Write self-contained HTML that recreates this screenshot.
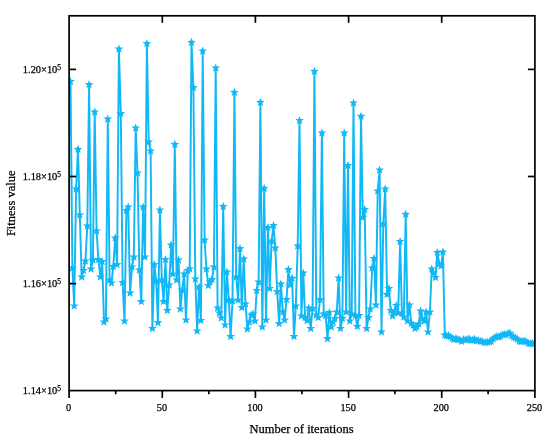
<!DOCTYPE html>
<html><head><meta charset="utf-8"><title>Fitness value</title>
<style>html,body{margin:0;padding:0;background:#fff;}svg{display:block;}</style></head>
<body>
<svg width="550" height="442" viewBox="0 0 550 442">
<rect width="550" height="442" fill="#fff"/>
<defs><clipPath id="plot"><rect x="69.1" y="15.8" width="465.8" height="374.8"/></clipPath></defs>
<g clip-path="url(#plot)">
<polyline points="70.5,81.5 72.4,268.0 74.2,306.0 76.1,189.0 78.0,149.4 79.8,215.0 81.7,277.0 83.5,270.5 85.4,261.0 87.3,226.0 89.1,84.6 91.0,269.0 92.9,260.0 94.7,112.0 96.6,231.0 98.4,259.5 100.3,277.0 102.2,261.5 104.0,322.0 105.9,319.0 107.8,119.0 109.6,280.0 111.5,283.0 113.3,266.5 115.2,238.0 117.1,264.6 118.9,49.0 120.8,113.6 122.6,282.5 124.5,321.0 126.4,210.5 128.2,207.0 130.1,293.0 132.0,267.0 133.8,257.0 135.7,128.0 137.5,173.0 139.4,270.0 141.3,301.6 143.1,207.0 145.0,257.0 146.9,43.6 148.7,142.0 150.6,151.0 152.4,328.5 154.3,264.5 156.2,281.0 158.0,322.7 159.9,210.0 161.8,280.0 163.6,301.6 165.5,259.5 167.3,310.4 169.2,285.0 171.1,245.0 172.9,274.0 174.8,144.4 176.6,280.0 178.5,260.0 180.4,309.0 182.2,290.0 184.1,274.0 186.0,320.0 187.8,270.5 189.7,269.0 191.5,42.4 193.4,87.6 195.3,279.0 197.1,331.0 199.0,287.0 200.9,320.5 202.7,51.0 204.6,240.0 206.4,269.0 208.3,285.5 210.2,281.5 212.0,279.5 213.9,267.0 215.7,68.0 217.6,308.0 219.5,313.0 221.3,318.0 223.2,206.5 225.1,325.0 226.9,272.0 228.8,300.0 230.6,336.5 232.5,301.0 234.4,92.4 236.2,277.0 238.1,300.0 240.0,248.7 241.8,307.5 243.7,259.0 245.5,304.0 247.4,329.0 249.3,322.0 251.1,315.0 253.0,314.0 254.9,321.0 256.7,290.5 258.6,282.0 260.4,102.4 262.3,327.0 264.2,188.4 266.0,320.0 267.9,227.6 269.7,288.5 271.6,241.0 273.5,225.5 275.3,248.0 277.2,291.5 279.1,323.5 280.9,284.0 282.8,312.0 284.6,320.0 286.5,299.5 288.4,269.6 290.2,285.0 292.1,278.4 294.0,336.5 295.8,306.0 297.7,246.0 299.5,120.5 301.4,316.0 303.3,273.0 305.1,317.5 307.0,320.5 308.8,308.0 310.7,328.5 312.6,308.5 314.4,71.4 316.3,315.0 318.2,317.6 320.0,299.5 321.9,133.0 323.7,314.0 325.6,315.5 327.5,338.7 329.3,312.5 331.2,327.0 333.1,322.0 334.9,318.6 336.8,312.0 338.6,278.0 340.5,328.5 342.4,318.4 344.2,133.0 346.1,312.0 348.0,165.6 349.8,321.0 351.7,314.0 353.5,103.0 355.4,315.5 357.3,326.4 359.1,315.5 361.0,116.4 362.8,217.5 364.7,209.5 366.6,328.5 368.4,317.6 370.3,309.0 372.2,268.0 374.0,258.5 375.9,305.0 377.7,191.0 379.6,170.0 381.5,332.0 383.3,224.0 385.2,189.0 387.1,294.4 388.9,288.5 390.8,310.5 392.6,316.0 394.5,312.0 396.4,305.5 398.2,313.0 400.1,241.5 401.9,313.0 403.8,317.0 405.7,214.3 407.5,321.0 409.4,305.0 411.3,323.5 413.1,325.0 415.0,328.5 416.8,327.0 418.7,324.0 420.6,311.0 422.4,319.0 424.3,321.0 426.2,312.0 428.0,332.0 429.9,312.0 431.7,269.0 433.6,273.0 435.5,277.5 437.3,252.5 439.2,264.0 441.1,266.0 442.9,252.0 444.8,335.1 446.6,336.1 448.5,335.7 450.4,336.8 452.2,338.6 454.1,339.6 455.9,338.6 457.8,339.5 459.7,339.8 461.5,341.4 463.4,339.6 465.3,339.9 467.1,339.6 469.0,338.9 470.8,340.2 472.7,340.2 474.6,339.2 476.4,340.9 478.3,340.5 480.2,341.3 482.0,341.3 483.9,342.6 485.7,342.3 487.6,342.0 489.5,342.0 491.3,341.3 493.2,338.9 495.0,337.3 496.9,336.7 498.8,337.0 500.6,336.1 502.5,334.8 504.4,334.7 506.2,334.5 508.1,333.6 509.9,333.2 511.8,336.0 513.7,337.2 515.5,338.1 517.4,339.2 519.3,341.0 521.1,341.7 523.0,341.1 524.8,341.0 526.7,342.0 528.6,343.6 530.4,343.5 532.3,343.4 534.1,344.0" fill="none" stroke="#12b7f5" stroke-width="1.95" stroke-linejoin="round"/>
<path d="M70.5 76.9L71.7 79.9L74.9 80.1L72.4 82.1L73.2 85.2L70.5 83.5L67.8 85.2L68.6 82.1L66.1 80.1L69.3 79.9ZM72.4 263.4L73.5 266.4L76.7 266.6L74.3 268.6L75.1 271.7L72.4 270.0L69.7 271.7L70.5 268.6L68.0 266.6L71.2 266.4ZM74.2 301.4L75.4 304.4L78.6 304.6L76.1 306.6L76.9 309.7L74.2 308.0L71.5 309.7L72.3 306.6L69.9 304.6L73.1 304.4ZM76.1 184.4L77.3 187.4L80.5 187.6L78.0 189.6L78.8 192.7L76.1 191.0L73.4 192.7L74.2 189.6L71.7 187.6L74.9 187.4ZM78.0 144.8L79.1 147.8L82.3 148.0L79.9 150.0L80.7 153.1L78.0 151.4L75.3 153.1L76.1 150.0L73.6 148.0L76.8 147.8ZM79.8 210.4L81.0 213.4L84.2 213.6L81.7 215.6L82.5 218.7L79.8 217.0L77.1 218.7L77.9 215.6L75.4 213.6L78.6 213.4ZM81.7 272.4L82.9 275.4L86.1 275.6L83.6 277.6L84.4 280.7L81.7 279.0L79.0 280.7L79.8 277.6L77.3 275.6L80.5 275.4ZM83.5 265.9L84.7 268.9L87.9 269.1L85.4 271.1L86.2 274.2L83.5 272.5L80.8 274.2L81.6 271.1L79.2 269.1L82.4 268.9ZM85.4 256.4L86.6 259.4L89.8 259.6L87.3 261.6L88.1 264.7L85.4 263.0L82.7 264.7L83.5 261.6L81.0 259.6L84.2 259.4ZM87.3 221.4L88.4 224.4L91.6 224.6L89.2 226.6L90.0 229.7L87.3 228.0L84.6 229.7L85.4 226.6L82.9 224.6L86.1 224.4ZM89.1 80.0L90.3 83.0L93.5 83.2L91.0 85.2L91.8 88.3L89.1 86.6L86.4 88.3L87.2 85.2L84.8 83.2L88.0 83.0ZM91.0 264.4L92.2 267.4L95.4 267.6L92.9 269.6L93.7 272.7L91.0 271.0L88.3 272.7L89.1 269.6L86.6 267.6L89.8 267.4ZM92.9 255.4L94.0 258.4L97.2 258.6L94.8 260.6L95.6 263.7L92.9 262.0L90.2 263.7L91.0 260.6L88.5 258.6L91.7 258.4ZM94.7 107.4L95.9 110.4L99.1 110.6L96.6 112.6L97.4 115.7L94.7 114.0L92.0 115.7L92.8 112.6L90.3 110.6L93.5 110.4ZM96.6 226.4L97.8 229.4L101.0 229.6L98.5 231.6L99.3 234.7L96.6 233.0L93.9 234.7L94.7 231.6L92.2 229.6L95.4 229.4ZM98.4 254.9L99.6 257.9L102.8 258.1L100.3 260.1L101.1 263.2L98.4 261.5L95.7 263.2L96.5 260.1L94.1 258.1L97.3 257.9ZM100.3 272.4L101.5 275.4L104.7 275.6L102.2 277.6L103.0 280.7L100.3 279.0L97.6 280.7L98.4 277.6L95.9 275.6L99.1 275.4ZM102.2 256.9L103.3 259.9L106.5 260.1L104.1 262.1L104.9 265.2L102.2 263.5L99.5 265.2L100.3 262.1L97.8 260.1L101.0 259.9ZM104.0 317.4L105.2 320.4L108.4 320.6L105.9 322.6L106.7 325.7L104.0 324.0L101.3 325.7L102.1 322.6L99.7 320.6L102.9 320.4ZM105.9 314.4L107.1 317.4L110.3 317.6L107.8 319.6L108.6 322.7L105.9 321.0L103.2 322.7L104.0 319.6L101.5 317.6L104.7 317.4ZM107.8 114.4L108.9 117.4L112.1 117.6L109.7 119.6L110.5 122.7L107.8 121.0L105.0 122.7L105.8 119.6L103.4 117.6L106.6 117.4ZM109.6 275.4L110.8 278.4L114.0 278.6L111.5 280.6L112.3 283.7L109.6 282.0L106.9 283.7L107.7 280.6L105.2 278.6L108.4 278.4ZM111.5 278.4L112.7 281.4L115.9 281.6L113.4 283.6L114.2 286.7L111.5 285.0L108.8 286.7L109.6 283.6L107.1 281.6L110.3 281.4ZM113.3 261.9L114.5 264.9L117.7 265.1L115.2 267.1L116.0 270.2L113.3 268.5L110.6 270.2L111.4 267.1L109.0 265.1L112.2 264.9ZM115.2 233.4L116.4 236.4L119.6 236.6L117.1 238.6L117.9 241.7L115.2 240.0L112.5 241.7L113.3 238.6L110.8 236.6L114.0 236.4ZM117.1 260.0L118.2 263.0L121.4 263.2L119.0 265.2L119.8 268.3L117.1 266.6L114.4 268.3L115.2 265.2L112.7 263.2L115.9 263.0ZM118.9 44.4L120.1 47.4L123.3 47.6L120.8 49.6L121.6 52.7L118.9 51.0L116.2 52.7L117.0 49.6L114.5 47.6L117.7 47.4ZM120.8 109.0L122.0 112.0L125.2 112.2L122.7 114.2L123.5 117.3L120.8 115.6L118.1 117.3L118.9 114.2L116.4 112.2L119.6 112.0ZM122.6 277.9L123.8 280.9L127.0 281.1L124.6 283.1L125.4 286.2L122.6 284.5L119.9 286.2L120.7 283.1L118.3 281.1L121.5 280.9ZM124.5 316.4L125.7 319.4L128.9 319.6L126.4 321.6L127.2 324.7L124.5 323.0L121.8 324.7L122.6 321.6L120.1 319.6L123.3 319.4ZM126.4 205.9L127.5 208.9L130.7 209.1L128.3 211.1L129.1 214.2L126.4 212.5L123.7 214.2L124.5 211.1L122.0 209.1L125.2 208.9ZM128.2 202.4L129.4 205.4L132.6 205.6L130.1 207.6L130.9 210.7L128.2 209.0L125.5 210.7L126.3 207.6L123.9 205.6L127.1 205.4ZM130.1 288.4L131.3 291.4L134.5 291.6L132.0 293.6L132.8 296.7L130.1 295.0L127.4 296.7L128.2 293.6L125.7 291.6L128.9 291.4ZM132.0 262.4L133.1 265.4L136.3 265.6L133.9 267.6L134.7 270.7L132.0 269.0L129.3 270.7L130.1 267.6L127.6 265.6L130.8 265.4ZM133.8 252.4L135.0 255.4L138.2 255.6L135.7 257.6L136.5 260.7L133.8 259.0L131.1 260.7L131.9 257.6L129.4 255.6L132.6 255.4ZM135.7 123.4L136.9 126.4L140.1 126.6L137.6 128.6L138.4 131.7L135.7 130.0L133.0 131.7L133.8 128.6L131.3 126.6L134.5 126.4ZM137.5 168.4L138.7 171.4L141.9 171.6L139.4 173.6L140.2 176.7L137.5 175.0L134.8 176.7L135.6 173.6L133.2 171.6L136.4 171.4ZM139.4 265.4L140.6 268.4L143.8 268.6L141.3 270.6L142.1 273.7L139.4 272.0L136.7 273.7L137.5 270.6L135.0 268.6L138.2 268.4ZM141.3 297.0L142.4 300.0L145.6 300.2L143.2 302.2L144.0 305.3L141.3 303.6L138.6 305.3L139.4 302.2L136.9 300.2L140.1 300.0ZM143.1 202.4L144.3 205.4L147.5 205.6L145.0 207.6L145.8 210.7L143.1 209.0L140.4 210.7L141.2 207.6L138.8 205.6L142.0 205.4ZM145.0 252.4L146.2 255.4L149.4 255.6L146.9 257.6L147.7 260.7L145.0 259.0L142.3 260.7L143.1 257.6L140.6 255.6L143.8 255.4ZM146.9 39.0L148.0 42.0L151.2 42.2L148.8 44.2L149.6 47.3L146.9 45.6L144.2 47.3L145.0 44.2L142.5 42.2L145.7 42.0ZM148.7 137.4L149.9 140.4L153.1 140.6L150.6 142.6L151.4 145.7L148.7 144.0L146.0 145.7L146.8 142.6L144.3 140.6L147.5 140.4ZM150.6 146.4L151.8 149.4L155.0 149.6L152.5 151.6L153.3 154.7L150.6 153.0L147.9 154.7L148.7 151.6L146.2 149.6L149.4 149.4ZM152.4 323.9L153.6 326.9L156.8 327.1L154.3 329.1L155.1 332.2L152.4 330.5L149.7 332.2L150.5 329.1L148.1 327.1L151.3 326.9ZM154.3 259.9L155.5 262.9L158.7 263.1L156.2 265.1L157.0 268.2L154.3 266.5L151.6 268.2L152.4 265.1L149.9 263.1L153.1 262.9ZM156.2 276.4L157.3 279.4L160.5 279.6L158.1 281.6L158.9 284.7L156.2 283.0L153.5 284.7L154.3 281.6L151.8 279.6L155.0 279.4ZM158.0 318.1L159.2 321.1L162.4 321.3L159.9 323.3L160.7 326.4L158.0 324.7L155.3 326.4L156.1 323.3L153.7 321.3L156.9 321.1ZM159.9 205.4L161.1 208.4L164.3 208.6L161.8 210.6L162.6 213.7L159.9 212.0L157.2 213.7L158.0 210.6L155.5 208.6L158.7 208.4ZM161.8 275.4L162.9 278.4L166.1 278.6L163.7 280.6L164.5 283.7L161.8 282.0L159.0 283.7L159.8 280.6L157.4 278.6L160.6 278.4ZM163.6 297.0L164.8 300.0L168.0 300.2L165.5 302.2L166.3 305.3L163.6 303.6L160.9 305.3L161.7 302.2L159.2 300.2L162.4 300.0ZM165.5 254.9L166.6 257.9L169.8 258.1L167.4 260.1L168.2 263.2L165.5 261.5L162.8 263.2L163.6 260.1L161.1 258.1L164.3 257.9ZM167.3 305.8L168.5 308.8L171.7 309.0L169.2 311.0L170.0 314.1L167.3 312.4L164.6 314.1L165.4 311.0L163.0 309.0L166.2 308.8ZM169.2 280.4L170.4 283.4L173.6 283.6L171.1 285.6L171.9 288.7L169.2 287.0L166.5 288.7L167.3 285.6L164.8 283.6L168.0 283.4ZM171.1 240.4L172.2 243.4L175.4 243.6L173.0 245.6L173.8 248.7L171.1 247.0L168.4 248.7L169.2 245.6L166.7 243.6L169.9 243.4ZM172.9 269.4L174.1 272.4L177.3 272.6L174.8 274.6L175.6 277.7L172.9 276.0L170.2 277.7L171.0 274.6L168.5 272.6L171.7 272.4ZM174.8 139.8L176.0 142.8L179.2 143.0L176.7 145.0L177.5 148.1L174.8 146.4L172.1 148.1L172.9 145.0L170.4 143.0L173.6 142.8ZM176.6 275.4L177.8 278.4L181.0 278.6L178.5 280.6L179.3 283.7L176.6 282.0L173.9 283.7L174.7 280.6L172.3 278.6L175.5 278.4ZM178.5 255.4L179.7 258.4L182.9 258.6L180.4 260.6L181.2 263.7L178.5 262.0L175.8 263.7L176.6 260.6L174.1 258.6L177.3 258.4ZM180.4 304.4L181.5 307.4L184.7 307.6L182.3 309.6L183.1 312.7L180.4 311.0L177.7 312.7L178.5 309.6L176.0 307.6L179.2 307.4ZM182.2 285.4L183.4 288.4L186.6 288.6L184.1 290.6L184.9 293.7L182.2 292.0L179.5 293.7L180.3 290.6L177.9 288.6L181.1 288.4ZM184.1 269.4L185.3 272.4L188.5 272.6L186.0 274.6L186.8 277.7L184.1 276.0L181.4 277.7L182.2 274.6L179.7 272.6L182.9 272.4ZM186.0 315.4L187.1 318.4L190.3 318.6L187.9 320.6L188.7 323.7L186.0 322.0L183.3 323.7L184.1 320.6L181.6 318.6L184.8 318.4ZM187.8 265.9L189.0 268.9L192.2 269.1L189.7 271.1L190.5 274.2L187.8 272.5L185.1 274.2L185.9 271.1L183.4 269.1L186.6 268.9ZM189.7 264.4L190.9 267.4L194.1 267.6L191.6 269.6L192.4 272.7L189.7 271.0L187.0 272.7L187.8 269.6L185.3 267.6L188.5 267.4ZM191.5 37.8L192.7 40.8L195.9 41.0L193.4 43.0L194.2 46.1L191.5 44.4L188.8 46.1L189.6 43.0L187.2 41.0L190.4 40.8ZM193.4 83.0L194.6 86.0L197.8 86.2L195.3 88.2L196.1 91.3L193.4 89.6L190.7 91.3L191.5 88.2L189.0 86.2L192.2 86.0ZM195.3 274.4L196.4 277.4L199.6 277.6L197.2 279.6L198.0 282.7L195.3 281.0L192.6 282.7L193.4 279.6L190.9 277.6L194.1 277.4ZM197.1 326.4L198.3 329.4L201.5 329.6L199.0 331.6L199.8 334.7L197.1 333.0L194.4 334.7L195.2 331.6L192.8 329.6L196.0 329.4ZM199.0 282.4L200.2 285.4L203.4 285.6L200.9 287.6L201.7 290.7L199.0 289.0L196.3 290.7L197.1 287.6L194.6 285.6L197.8 285.4ZM200.9 315.9L202.0 318.9L205.2 319.1L202.8 321.1L203.6 324.2L200.9 322.5L198.1 324.2L198.9 321.1L196.5 319.1L199.7 318.9ZM202.7 46.4L203.9 49.4L207.1 49.6L204.6 51.6L205.4 54.7L202.7 53.0L200.0 54.7L200.8 51.6L198.3 49.6L201.5 49.4ZM204.6 235.4L205.8 238.4L209.0 238.6L206.5 240.6L207.3 243.7L204.6 242.0L201.9 243.7L202.7 240.6L200.2 238.6L203.4 238.4ZM206.4 264.4L207.6 267.4L210.8 267.6L208.3 269.6L209.1 272.7L206.4 271.0L203.7 272.7L204.5 269.6L202.1 267.6L205.3 267.4ZM208.3 280.9L209.5 283.9L212.7 284.1L210.2 286.1L211.0 289.2L208.3 287.5L205.6 289.2L206.4 286.1L203.9 284.1L207.1 283.9ZM210.2 276.9L211.3 279.9L214.5 280.1L212.1 282.1L212.9 285.2L210.2 283.5L207.5 285.2L208.3 282.1L205.8 280.1L209.0 279.9ZM212.0 274.9L213.2 277.9L216.4 278.1L213.9 280.1L214.7 283.2L212.0 281.5L209.3 283.2L210.1 280.1L207.6 278.1L210.8 277.9ZM213.9 262.4L215.1 265.4L218.3 265.6L215.8 267.6L216.6 270.7L213.9 269.0L211.2 270.7L212.0 267.6L209.5 265.6L212.7 265.4ZM215.7 63.4L216.9 66.4L220.1 66.6L217.7 68.6L218.5 71.7L215.7 70.0L213.0 71.7L213.8 68.6L211.4 66.6L214.6 66.4ZM217.6 303.4L218.8 306.4L222.0 306.6L219.5 308.6L220.3 311.7L217.6 310.0L214.9 311.7L215.7 308.6L213.2 306.6L216.4 306.4ZM219.5 308.4L220.6 311.4L223.8 311.6L221.4 313.6L222.2 316.7L219.5 315.0L216.8 316.7L217.6 313.6L215.1 311.6L218.3 311.4ZM221.3 313.4L222.5 316.4L225.7 316.6L223.2 318.6L224.0 321.7L221.3 320.0L218.6 321.7L219.4 318.6L217.0 316.6L220.2 316.4ZM223.2 201.9L224.4 204.9L227.6 205.1L225.1 207.1L225.9 210.2L223.2 208.5L220.5 210.2L221.3 207.1L218.8 205.1L222.0 204.9ZM225.1 320.4L226.2 323.4L229.4 323.6L227.0 325.6L227.8 328.7L225.1 327.0L222.4 328.7L223.2 325.6L220.7 323.6L223.9 323.4ZM226.9 267.4L228.1 270.4L231.3 270.6L228.8 272.6L229.6 275.7L226.9 274.0L224.2 275.7L225.0 272.6L222.5 270.6L225.7 270.4ZM228.8 295.4L230.0 298.4L233.2 298.6L230.7 300.6L231.5 303.7L228.8 302.0L226.1 303.7L226.9 300.6L224.4 298.6L227.6 298.4ZM230.6 331.9L231.8 334.9L235.0 335.1L232.5 337.1L233.3 340.2L230.6 338.5L227.9 340.2L228.7 337.1L226.3 335.1L229.5 334.9ZM232.5 296.4L233.7 299.4L236.9 299.6L234.4 301.6L235.2 304.7L232.5 303.0L229.8 304.7L230.6 301.6L228.1 299.6L231.3 299.4ZM234.4 87.8L235.5 90.8L238.7 91.0L236.3 93.0L237.1 96.1L234.4 94.4L231.7 96.1L232.5 93.0L230.0 91.0L233.2 90.8ZM236.2 272.4L237.4 275.4L240.6 275.6L238.1 277.6L238.9 280.7L236.2 279.0L233.5 280.7L234.3 277.6L231.9 275.6L235.1 275.4ZM238.1 295.4L239.3 298.4L242.5 298.6L240.0 300.6L240.8 303.7L238.1 302.0L235.4 303.7L236.2 300.6L233.7 298.6L236.9 298.4ZM240.0 244.1L241.1 247.1L244.3 247.3L241.9 249.3L242.7 252.4L240.0 250.7L237.3 252.4L238.1 249.3L235.6 247.3L238.8 247.1ZM241.8 302.9L243.0 305.9L246.2 306.1L243.7 308.1L244.5 311.2L241.8 309.5L239.1 311.2L239.9 308.1L237.4 306.1L240.6 305.9ZM243.7 254.4L244.9 257.4L248.1 257.6L245.6 259.6L246.4 262.7L243.7 261.0L241.0 262.7L241.8 259.6L239.3 257.6L242.5 257.4ZM245.5 299.4L246.7 302.4L249.9 302.6L247.4 304.6L248.2 307.7L245.5 306.0L242.8 307.7L243.6 304.6L241.2 302.6L244.4 302.4ZM247.4 324.4L248.6 327.4L251.8 327.6L249.3 329.6L250.1 332.7L247.4 331.0L244.7 332.7L245.5 329.6L243.0 327.6L246.2 327.4ZM249.3 317.4L250.4 320.4L253.6 320.6L251.2 322.6L252.0 325.7L249.3 324.0L246.6 325.7L247.4 322.6L244.9 320.6L248.1 320.4ZM251.1 310.4L252.3 313.4L255.5 313.6L253.0 315.6L253.8 318.7L251.1 317.0L248.4 318.7L249.2 315.6L246.8 313.6L250.0 313.4ZM253.0 309.4L254.2 312.4L257.4 312.6L254.9 314.6L255.7 317.7L253.0 316.0L250.3 317.7L251.1 314.6L248.6 312.6L251.8 312.4ZM254.9 316.4L256.0 319.4L259.2 319.6L256.8 321.6L257.6 324.7L254.9 323.0L252.1 324.7L252.9 321.6L250.5 319.6L253.7 319.4ZM256.7 285.9L257.9 288.9L261.1 289.1L258.6 291.1L259.4 294.2L256.7 292.5L254.0 294.2L254.8 291.1L252.3 289.1L255.5 288.9ZM258.6 277.4L259.7 280.4L262.9 280.6L260.5 282.6L261.3 285.7L258.6 284.0L255.9 285.7L256.7 282.6L254.2 280.6L257.4 280.4ZM260.4 97.8L261.6 100.8L264.8 101.0L262.3 103.0L263.1 106.1L260.4 104.4L257.7 106.1L258.5 103.0L256.1 101.0L259.3 100.8ZM262.3 322.4L263.5 325.4L266.7 325.6L264.2 327.6L265.0 330.7L262.3 329.0L259.6 330.7L260.4 327.6L257.9 325.6L261.1 325.4ZM264.2 183.8L265.3 186.8L268.5 187.0L266.1 189.0L266.9 192.1L264.2 190.4L261.5 192.1L262.3 189.0L259.8 187.0L263.0 186.8ZM266.0 315.4L267.2 318.4L270.4 318.6L267.9 320.6L268.7 323.7L266.0 322.0L263.3 323.7L264.1 320.6L261.6 318.6L264.8 318.4ZM267.9 223.0L269.1 226.0L272.3 226.2L269.8 228.2L270.6 231.3L267.9 229.6L265.2 231.3L266.0 228.2L263.5 226.2L266.7 226.0ZM269.7 283.9L270.9 286.9L274.1 287.1L271.6 289.1L272.4 292.2L269.7 290.5L267.0 292.2L267.8 289.1L265.4 287.1L268.6 286.9ZM271.6 236.4L272.8 239.4L276.0 239.6L273.5 241.6L274.3 244.7L271.6 243.0L268.9 244.7L269.7 241.6L267.2 239.6L270.4 239.4ZM273.5 220.9L274.6 223.9L277.8 224.1L275.4 226.1L276.2 229.2L273.5 227.5L270.8 229.2L271.6 226.1L269.1 224.1L272.3 223.9ZM275.3 243.4L276.5 246.4L279.7 246.6L277.2 248.6L278.0 251.7L275.3 250.0L272.6 251.7L273.4 248.6L271.0 246.6L274.2 246.4ZM277.2 286.9L278.4 289.9L281.6 290.1L279.1 292.1L279.9 295.2L277.2 293.5L274.5 295.2L275.3 292.1L272.8 290.1L276.0 289.9ZM279.1 318.9L280.2 321.9L283.4 322.1L281.0 324.1L281.8 327.2L279.1 325.5L276.4 327.2L277.2 324.1L274.7 322.1L277.9 321.9ZM280.9 279.4L282.1 282.4L285.3 282.6L282.8 284.6L283.6 287.7L280.9 286.0L278.2 287.7L279.0 284.6L276.5 282.6L279.7 282.4ZM282.8 307.4L284.0 310.4L287.2 310.6L284.7 312.6L285.5 315.7L282.8 314.0L280.1 315.7L280.9 312.6L278.4 310.6L281.6 310.4ZM284.6 315.4L285.8 318.4L289.0 318.6L286.5 320.6L287.3 323.7L284.6 322.0L281.9 323.7L282.7 320.6L280.3 318.6L283.5 318.4ZM286.5 294.9L287.7 297.9L290.9 298.1L288.4 300.1L289.2 303.2L286.5 301.5L283.8 303.2L284.6 300.1L282.1 298.1L285.3 297.9ZM288.4 265.0L289.5 268.0L292.7 268.2L290.3 270.2L291.1 273.3L288.4 271.6L285.7 273.3L286.5 270.2L284.0 268.2L287.2 268.0ZM290.2 280.4L291.4 283.4L294.6 283.6L292.1 285.6L292.9 288.7L290.2 287.0L287.5 288.7L288.3 285.6L285.9 283.6L289.1 283.4ZM292.1 273.8L293.3 276.8L296.5 277.0L294.0 279.0L294.8 282.1L292.1 280.4L289.4 282.1L290.2 279.0L287.7 277.0L290.9 276.8ZM294.0 331.9L295.1 334.9L298.3 335.1L295.9 337.1L296.7 340.2L294.0 338.5L291.2 340.2L292.0 337.1L289.6 335.1L292.8 334.9ZM295.8 301.4L297.0 304.4L300.2 304.6L297.7 306.6L298.5 309.7L295.8 308.0L293.1 309.7L293.9 306.6L291.4 304.6L294.6 304.4ZM297.7 241.4L298.9 244.4L302.1 244.6L299.6 246.6L300.4 249.7L297.7 248.0L295.0 249.7L295.8 246.6L293.3 244.6L296.5 244.4ZM299.5 115.9L300.7 118.9L303.9 119.1L301.4 121.1L302.2 124.2L299.5 122.5L296.8 124.2L297.6 121.1L295.2 119.1L298.4 118.9ZM301.4 311.4L302.6 314.4L305.8 314.6L303.3 316.6L304.1 319.7L301.4 318.0L298.7 319.7L299.5 316.6L297.0 314.6L300.2 314.4ZM303.3 268.4L304.4 271.4L307.6 271.6L305.2 273.6L306.0 276.7L303.3 275.0L300.6 276.7L301.4 273.6L298.9 271.6L302.1 271.4ZM305.1 312.9L306.3 315.9L309.5 316.1L307.0 318.1L307.8 321.2L305.1 319.5L302.4 321.2L303.2 318.1L300.7 316.1L303.9 315.9ZM307.0 315.9L308.2 318.9L311.4 319.1L308.9 321.1L309.7 324.2L307.0 322.5L304.3 324.2L305.1 321.1L302.6 319.1L305.8 318.9ZM308.8 303.4L310.0 306.4L313.2 306.6L310.8 308.6L311.6 311.7L308.8 310.0L306.1 311.7L306.9 308.6L304.5 306.6L307.7 306.4ZM310.7 323.9L311.9 326.9L315.1 327.1L312.6 329.1L313.4 332.2L310.7 330.5L308.0 332.2L308.8 329.1L306.3 327.1L309.5 326.9ZM312.6 303.9L313.7 306.9L316.9 307.1L314.5 309.1L315.3 312.2L312.6 310.5L309.9 312.2L310.7 309.1L308.2 307.1L311.4 306.9ZM314.4 66.8L315.6 69.8L318.8 70.0L316.3 72.0L317.1 75.1L314.4 73.4L311.7 75.1L312.5 72.0L310.1 70.0L313.3 69.8ZM316.3 310.4L317.5 313.4L320.7 313.6L318.2 315.6L319.0 318.7L316.3 317.0L313.6 318.7L314.4 315.6L311.9 313.6L315.1 313.4ZM318.2 313.0L319.3 316.0L322.5 316.2L320.1 318.2L320.9 321.3L318.2 319.6L315.5 321.3L316.3 318.2L313.8 316.2L317.0 316.0ZM320.0 294.9L321.2 297.9L324.4 298.1L321.9 300.1L322.7 303.2L320.0 301.5L317.3 303.2L318.1 300.1L315.6 298.1L318.8 297.9ZM321.9 128.4L323.1 131.4L326.3 131.6L323.8 133.6L324.6 136.7L321.9 135.0L319.2 136.7L320.0 133.6L317.5 131.6L320.7 131.4ZM323.7 309.4L324.9 312.4L328.1 312.6L325.6 314.6L326.4 317.7L323.7 316.0L321.0 317.7L321.8 314.6L319.4 312.6L322.6 312.4ZM325.6 310.9L326.8 313.9L330.0 314.1L327.5 316.1L328.3 319.2L325.6 317.5L322.9 319.2L323.7 316.1L321.2 314.1L324.4 313.9ZM327.5 334.1L328.6 337.1L331.8 337.3L329.4 339.3L330.2 342.4L327.5 340.7L324.8 342.4L325.6 339.3L323.1 337.3L326.3 337.1ZM329.3 307.9L330.5 310.9L333.7 311.1L331.2 313.1L332.0 316.2L329.3 314.5L326.6 316.2L327.4 313.1L325.0 311.1L328.2 310.9ZM331.2 322.4L332.4 325.4L335.6 325.6L333.1 327.6L333.9 330.7L331.2 329.0L328.5 330.7L329.3 327.6L326.8 325.6L330.0 325.4ZM333.1 317.4L334.2 320.4L337.4 320.6L335.0 322.6L335.8 325.7L333.1 324.0L330.4 325.7L331.2 322.6L328.7 320.6L331.9 320.4ZM334.9 314.0L336.1 317.0L339.3 317.2L336.8 319.2L337.6 322.3L334.9 320.6L332.2 322.3L333.0 319.2L330.5 317.2L333.7 317.0ZM336.8 307.4L338.0 310.4L341.2 310.6L338.7 312.6L339.5 315.7L336.8 314.0L334.1 315.7L334.9 312.6L332.4 310.6L335.6 310.4ZM338.6 273.4L339.8 276.4L343.0 276.6L340.5 278.6L341.3 281.7L338.6 280.0L335.9 281.7L336.7 278.6L334.3 276.6L337.5 276.4ZM340.5 323.9L341.7 326.9L344.9 327.1L342.4 329.1L343.2 332.2L340.5 330.5L337.8 332.2L338.6 329.1L336.1 327.1L339.3 326.9ZM342.4 313.8L343.5 316.8L346.7 317.0L344.3 319.0L345.1 322.1L342.4 320.4L339.7 322.1L340.5 319.0L338.0 317.0L341.2 316.8ZM344.2 128.4L345.4 131.4L348.6 131.6L346.1 133.6L346.9 136.7L344.2 135.0L341.5 136.7L342.3 133.6L339.9 131.6L343.1 131.4ZM346.1 307.4L347.3 310.4L350.5 310.6L348.0 312.6L348.8 315.7L346.1 314.0L343.4 315.7L344.2 312.6L341.7 310.6L344.9 310.4ZM348.0 161.0L349.1 164.0L352.3 164.2L349.9 166.2L350.7 169.3L348.0 167.6L345.2 169.3L346.0 166.2L343.6 164.2L346.8 164.0ZM349.8 316.4L351.0 319.4L354.2 319.6L351.7 321.6L352.5 324.7L349.8 323.0L347.1 324.7L347.9 321.6L345.4 319.6L348.6 319.4ZM351.7 309.4L352.8 312.4L356.0 312.6L353.6 314.6L354.4 317.7L351.7 316.0L349.0 317.7L349.8 314.6L347.3 312.6L350.5 312.4ZM353.5 98.4L354.7 101.4L357.9 101.6L355.4 103.6L356.2 106.7L353.5 105.0L350.8 106.7L351.6 103.6L349.2 101.6L352.4 101.4ZM355.4 310.9L356.6 313.9L359.8 314.1L357.3 316.1L358.1 319.2L355.4 317.5L352.7 319.2L353.5 316.1L351.0 314.1L354.2 313.9ZM357.3 321.8L358.4 324.8L361.6 325.0L359.2 327.0L360.0 330.1L357.3 328.4L354.6 330.1L355.4 327.0L352.9 325.0L356.1 324.8ZM359.1 310.9L360.3 313.9L363.5 314.1L361.0 316.1L361.8 319.2L359.1 317.5L356.4 319.2L357.2 316.1L354.7 314.1L357.9 313.9ZM361.0 111.8L362.2 114.8L365.4 115.0L362.9 117.0L363.7 120.1L361.0 118.4L358.3 120.1L359.1 117.0L356.6 115.0L359.8 114.8ZM362.8 212.9L364.0 215.9L367.2 216.1L364.7 218.1L365.5 221.2L362.8 219.5L360.1 221.2L360.9 218.1L358.5 216.1L361.7 215.9ZM364.7 204.9L365.9 207.9L369.1 208.1L366.6 210.1L367.4 213.2L364.7 211.5L362.0 213.2L362.8 210.1L360.3 208.1L363.5 207.9ZM366.6 323.9L367.7 326.9L370.9 327.1L368.5 329.1L369.3 332.2L366.6 330.5L363.9 332.2L364.7 329.1L362.2 327.1L365.4 326.9ZM368.4 313.0L369.6 316.0L372.8 316.2L370.3 318.2L371.1 321.3L368.4 319.6L365.7 321.3L366.5 318.2L364.1 316.2L367.3 316.0ZM370.3 304.4L371.5 307.4L374.7 307.6L372.2 309.6L373.0 312.7L370.3 311.0L367.6 312.7L368.4 309.6L365.9 307.6L369.1 307.4ZM372.2 263.4L373.3 266.4L376.5 266.6L374.1 268.6L374.9 271.7L372.2 270.0L369.5 271.7L370.3 268.6L367.8 266.6L371.0 266.4ZM374.0 253.9L375.2 256.9L378.4 257.1L375.9 259.1L376.7 262.2L374.0 260.5L371.3 262.2L372.1 259.1L369.6 257.1L372.8 256.9ZM375.9 300.4L377.1 303.4L380.3 303.6L377.8 305.6L378.6 308.7L375.9 307.0L373.2 308.7L374.0 305.6L371.5 303.6L374.7 303.4ZM377.7 186.4L378.9 189.4L382.1 189.6L379.6 191.6L380.4 194.7L377.7 193.0L375.0 194.7L375.8 191.6L373.4 189.6L376.6 189.4ZM379.6 165.4L380.8 168.4L384.0 168.6L381.5 170.6L382.3 173.7L379.6 172.0L376.9 173.7L377.7 170.6L375.2 168.6L378.4 168.4ZM381.5 327.4L382.6 330.4L385.8 330.6L383.4 332.6L384.2 335.7L381.5 334.0L378.8 335.7L379.6 332.6L377.1 330.6L380.3 330.4ZM383.3 219.4L384.5 222.4L387.7 222.6L385.2 224.6L386.0 227.7L383.3 226.0L380.6 227.7L381.4 224.6L379.0 222.6L382.2 222.4ZM385.2 184.4L386.4 187.4L389.6 187.6L387.1 189.6L387.9 192.7L385.2 191.0L382.5 192.7L383.3 189.6L380.8 187.6L384.0 187.4ZM387.1 289.8L388.2 292.8L391.4 293.0L389.0 295.0L389.8 298.1L387.1 296.4L384.3 298.1L385.1 295.0L382.7 293.0L385.9 292.8ZM388.9 283.9L390.1 286.9L393.3 287.1L390.8 289.1L391.6 292.2L388.9 290.5L386.2 292.2L387.0 289.1L384.5 287.1L387.7 286.9ZM390.8 305.9L392.0 308.9L395.2 309.1L392.7 311.1L393.5 314.2L390.8 312.5L388.1 314.2L388.9 311.1L386.4 309.1L389.6 308.9ZM392.6 311.4L393.8 314.4L397.0 314.6L394.5 316.6L395.3 319.7L392.6 318.0L389.9 319.7L390.7 316.6L388.3 314.6L391.5 314.4ZM394.5 307.4L395.7 310.4L398.9 310.6L396.4 312.6L397.2 315.7L394.5 314.0L391.8 315.7L392.6 312.6L390.1 310.6L393.3 310.4ZM396.4 300.9L397.5 303.9L400.7 304.1L398.3 306.1L399.1 309.2L396.4 307.5L393.7 309.2L394.5 306.1L392.0 304.1L395.2 303.9ZM398.2 308.4L399.4 311.4L402.6 311.6L400.1 313.6L400.9 316.7L398.2 315.0L395.5 316.7L396.3 313.6L393.8 311.6L397.0 311.4ZM400.1 236.9L401.3 239.9L404.5 240.1L402.0 242.1L402.8 245.2L400.1 243.5L397.4 245.2L398.2 242.1L395.7 240.1L398.9 239.9ZM401.9 308.4L403.1 311.4L406.3 311.6L403.9 313.6L404.7 316.7L401.9 315.0L399.2 316.7L400.0 313.6L397.6 311.6L400.8 311.4ZM403.8 312.4L405.0 315.4L408.2 315.6L405.7 317.6L406.5 320.7L403.8 319.0L401.1 320.7L401.9 317.6L399.4 315.6L402.6 315.4ZM405.7 209.7L406.8 212.7L410.0 212.9L407.6 214.9L408.4 218.0L405.7 216.3L403.0 218.0L403.8 214.9L401.3 212.9L404.5 212.7ZM407.5 316.4L408.7 319.4L411.9 319.6L409.4 321.6L410.2 324.7L407.5 323.0L404.8 324.7L405.6 321.6L403.2 319.6L406.4 319.4ZM409.4 300.4L410.6 303.4L413.8 303.6L411.3 305.6L412.1 308.7L409.4 307.0L406.7 308.7L407.5 305.6L405.0 303.6L408.2 303.4ZM411.3 318.9L412.4 321.9L415.6 322.1L413.2 324.1L414.0 327.2L411.3 325.5L408.6 327.2L409.4 324.1L406.9 322.1L410.1 321.9ZM413.1 320.4L414.3 323.4L417.5 323.6L415.0 325.6L415.8 328.7L413.1 327.0L410.4 328.7L411.2 325.6L408.7 323.6L411.9 323.4ZM415.0 323.9L416.2 326.9L419.4 327.1L416.9 329.1L417.7 332.2L415.0 330.5L412.3 332.2L413.1 329.1L410.6 327.1L413.8 326.9ZM416.8 322.4L418.0 325.4L421.2 325.6L418.7 327.6L419.5 330.7L416.8 329.0L414.1 330.7L414.9 327.6L412.5 325.6L415.7 325.4ZM418.7 319.4L419.9 322.4L423.1 322.6L420.6 324.6L421.4 327.7L418.7 326.0L416.0 327.7L416.8 324.6L414.3 322.6L417.5 322.4ZM420.6 306.4L421.7 309.4L424.9 309.6L422.5 311.6L423.3 314.7L420.6 313.0L417.9 314.7L418.7 311.6L416.2 309.6L419.4 309.4ZM422.4 314.4L423.6 317.4L426.8 317.6L424.3 319.6L425.1 322.7L422.4 321.0L419.7 322.7L420.5 319.6L418.1 317.6L421.3 317.4ZM424.3 316.4L425.5 319.4L428.7 319.6L426.2 321.6L427.0 324.7L424.3 323.0L421.6 324.7L422.4 321.6L419.9 319.6L423.1 319.4ZM426.2 307.4L427.3 310.4L430.5 310.6L428.1 312.6L428.9 315.7L426.2 314.0L423.5 315.7L424.3 312.6L421.8 310.6L425.0 310.4ZM428.0 327.4L429.2 330.4L432.4 330.6L429.9 332.6L430.7 335.7L428.0 334.0L425.3 335.7L426.1 332.6L423.6 330.6L426.8 330.4ZM429.9 307.4L431.1 310.4L434.3 310.6L431.8 312.6L432.6 315.7L429.9 314.0L427.2 315.7L428.0 312.6L425.5 310.6L428.7 310.4ZM431.7 264.4L432.9 267.4L436.1 267.6L433.6 269.6L434.4 272.7L431.7 271.0L429.0 272.7L429.8 269.6L427.4 267.6L430.6 267.4ZM433.6 268.4L434.8 271.4L438.0 271.6L435.5 273.6L436.3 276.7L433.6 275.0L430.9 276.7L431.7 273.6L429.2 271.6L432.4 271.4ZM435.5 272.9L436.6 275.9L439.8 276.1L437.4 278.1L438.2 281.2L435.5 279.5L432.8 281.2L433.6 278.1L431.1 276.1L434.3 275.9ZM437.3 247.9L438.5 250.9L441.7 251.1L439.2 253.1L440.0 256.2L437.3 254.5L434.6 256.2L435.4 253.1L433.0 251.1L436.2 250.9ZM439.2 259.4L440.4 262.4L443.6 262.6L441.1 264.6L441.9 267.7L439.2 266.0L436.5 267.7L437.3 264.6L434.8 262.6L438.0 262.4ZM441.1 261.4L442.2 264.4L445.4 264.6L443.0 266.6L443.8 269.7L441.1 268.0L438.3 269.7L439.1 266.6L436.7 264.6L439.9 264.4ZM442.9 247.4L444.1 250.4L447.3 250.6L444.8 252.6L445.6 255.7L442.9 254.0L440.2 255.7L441.0 252.6L438.5 250.6L441.7 250.4ZM444.8 330.5L445.9 333.5L449.1 333.7L446.7 335.7L447.5 338.8L444.8 337.1L442.1 338.8L442.9 335.7L440.4 333.7L443.6 333.5ZM446.6 331.5L447.8 334.5L451.0 334.7L448.5 336.7L449.3 339.8L446.6 338.1L443.9 339.8L444.7 336.7L442.3 334.7L445.5 334.5ZM448.5 331.1L449.7 334.1L452.9 334.3L450.4 336.3L451.2 339.4L448.5 337.7L445.8 339.4L446.6 336.3L444.1 334.3L447.3 334.1ZM450.4 332.2L451.5 335.2L454.7 335.4L452.3 337.4L453.1 340.5L450.4 338.8L447.7 340.5L448.5 337.4L446.0 335.4L449.2 335.2ZM452.2 334.0L453.4 337.0L456.6 337.2L454.1 339.3L454.9 342.4L452.2 340.6L449.5 342.4L450.3 339.3L447.8 337.2L451.0 337.0ZM454.1 335.0L455.3 337.9L458.5 338.1L456.0 340.2L456.8 343.3L454.1 341.6L451.4 343.3L452.2 340.2L449.7 338.1L452.9 337.9ZM455.9 334.0L457.1 337.0L460.3 337.2L457.8 339.2L458.6 342.3L455.9 340.6L453.2 342.3L454.0 339.2L451.6 337.2L454.8 337.0ZM457.8 334.9L459.0 337.8L462.2 338.0L459.7 340.1L460.5 343.2L457.8 341.5L455.1 343.2L455.9 340.1L453.4 338.0L456.6 337.8ZM459.7 335.2L460.8 338.1L464.0 338.3L461.6 340.4L462.4 343.5L459.7 341.8L457.0 343.5L457.8 340.4L455.3 338.3L458.5 338.1ZM461.5 336.8L462.7 339.7L465.9 339.9L463.4 342.0L464.2 345.1L461.5 343.4L458.8 345.1L459.6 342.0L457.2 339.9L460.4 339.7ZM463.4 335.0L464.6 338.0L467.8 338.2L465.3 340.2L466.1 343.3L463.4 341.6L460.7 343.3L461.5 340.2L459.0 338.2L462.2 338.0ZM465.3 335.3L466.4 338.2L469.6 338.4L467.2 340.5L468.0 343.6L465.3 341.9L462.6 343.6L463.4 340.5L460.9 338.4L464.1 338.2ZM467.1 335.0L468.3 337.9L471.5 338.1L469.0 340.2L469.8 343.3L467.1 341.6L464.4 343.3L465.2 340.2L462.7 338.1L465.9 337.9ZM469.0 334.3L470.2 337.3L473.4 337.5L470.9 339.6L471.7 342.7L469.0 340.9L466.3 342.7L467.1 339.6L464.6 337.5L467.8 337.3ZM470.8 335.6L472.0 338.5L475.2 338.7L472.7 340.8L473.5 343.9L470.8 342.2L468.1 343.9L468.9 340.8L466.5 338.7L469.7 338.5ZM472.7 335.6L473.9 338.6L477.1 338.8L474.6 340.8L475.4 343.9L472.7 342.2L470.0 343.9L470.8 340.8L468.3 338.8L471.5 338.6ZM474.6 334.6L475.7 337.6L478.9 337.8L476.5 339.9L477.3 343.0L474.6 341.2L471.9 343.0L472.7 339.9L470.2 337.8L473.4 337.6ZM476.4 336.3L477.6 339.3L480.8 339.5L478.3 341.5L479.1 344.6L476.4 342.9L473.7 344.6L474.5 341.5L472.1 339.5L475.3 339.3ZM478.3 335.9L479.5 338.9L482.7 339.1L480.2 341.2L481.0 344.3L478.3 342.5L475.6 344.3L476.4 341.2L473.9 339.1L477.1 338.9ZM480.2 336.7L481.3 339.7L484.5 339.9L482.1 341.9L482.9 345.0L480.2 343.3L477.4 345.0L478.2 341.9L475.8 339.9L479.0 339.7ZM482.0 336.7L483.2 339.7L486.4 339.9L483.9 341.9L484.7 345.0L482.0 343.3L479.3 345.0L480.1 341.9L477.6 339.9L480.8 339.7ZM483.9 338.0L485.1 341.0L488.3 341.2L485.8 343.2L486.6 346.3L483.9 344.6L481.2 346.3L482.0 343.2L479.5 341.2L482.7 341.0ZM485.7 337.7L486.9 340.7L490.1 340.9L487.6 343.0L488.4 346.1L485.7 344.3L483.0 346.1L483.8 343.0L481.4 340.9L484.6 340.7ZM487.6 337.4L488.8 340.4L492.0 340.6L489.5 342.6L490.3 345.7L487.6 344.0L484.9 345.7L485.7 342.6L483.2 340.6L486.4 340.4ZM489.5 337.4L490.6 340.4L493.8 340.6L491.4 342.6L492.2 345.7L489.5 344.0L486.8 345.7L487.6 342.6L485.1 340.6L488.3 340.4ZM491.3 336.7L492.5 339.7L495.7 339.9L493.2 342.0L494.0 345.1L491.3 343.3L488.6 345.1L489.4 342.0L486.9 339.9L490.1 339.7ZM493.2 334.3L494.4 337.3L497.6 337.4L495.1 339.5L495.9 342.6L493.2 340.9L490.5 342.6L491.3 339.5L488.8 337.4L492.0 337.3ZM495.0 332.7L496.2 335.7L499.4 335.9L497.0 338.0L497.8 341.1L495.0 339.3L492.3 341.1L493.1 338.0L490.7 335.9L493.9 335.7ZM496.9 332.1L498.1 335.1L501.3 335.3L498.8 337.3L499.6 340.4L496.9 338.7L494.2 340.4L495.0 337.3L492.5 335.3L495.7 335.1ZM498.8 332.4L499.9 335.4L503.1 335.6L500.7 337.6L501.5 340.7L498.8 339.0L496.1 340.7L496.9 337.6L494.4 335.6L497.6 335.4ZM500.6 331.5L501.8 334.5L505.0 334.7L502.5 336.8L503.3 339.9L500.6 338.1L497.9 339.9L498.7 336.8L496.3 334.7L499.5 334.5ZM502.5 330.2L503.7 333.1L506.9 333.3L504.4 335.4L505.2 338.5L502.5 336.8L499.8 338.5L500.6 335.4L498.1 333.3L501.3 333.1ZM504.4 330.1L505.5 333.0L508.7 333.2L506.3 335.3L507.1 338.4L504.4 336.7L501.7 338.4L502.5 335.3L500.0 333.2L503.2 333.0ZM506.2 329.9L507.4 332.9L510.6 333.1L508.1 335.1L508.9 338.2L506.2 336.5L503.5 338.2L504.3 335.1L501.8 333.1L505.0 332.9ZM508.1 329.0L509.3 332.0L512.5 332.2L510.0 334.3L510.8 337.4L508.1 335.6L505.4 337.4L506.2 334.3L503.7 332.2L506.9 332.0ZM509.9 328.6L511.1 331.6L514.3 331.8L511.8 333.8L512.6 336.9L509.9 335.2L507.2 336.9L508.0 333.8L505.6 331.8L508.8 331.6ZM511.8 331.4L513.0 334.4L516.2 334.6L513.7 336.6L514.5 339.7L511.8 338.0L509.1 339.7L509.9 336.6L507.4 334.6L510.6 334.4ZM513.7 332.6L514.8 335.5L518.0 335.7L515.6 337.8L516.4 340.9L513.7 339.2L511.0 340.9L511.8 337.8L509.3 335.7L512.5 335.5ZM515.5 333.5L516.7 336.5L519.9 336.7L517.4 338.7L518.2 341.8L515.5 340.1L512.8 341.8L513.6 338.7L511.2 336.7L514.4 336.5ZM517.4 334.6L518.6 337.6L521.8 337.7L519.3 339.8L520.1 342.9L517.4 341.2L514.7 342.9L515.5 339.8L513.0 337.7L516.2 337.6ZM519.3 336.4L520.4 339.4L523.6 339.6L521.2 341.6L522.0 344.7L519.3 343.0L516.6 344.7L517.4 341.6L514.9 339.6L518.1 339.4ZM521.1 337.1L522.3 340.0L525.5 340.2L523.0 342.3L523.8 345.4L521.1 343.7L518.4 345.4L519.2 342.3L516.7 340.2L519.9 340.0ZM523.0 336.5L524.2 339.5L527.4 339.6L524.9 341.7L525.7 344.8L523.0 343.1L520.3 344.8L521.1 341.7L518.6 339.6L521.8 339.5ZM524.8 336.4L526.0 339.4L529.2 339.6L526.7 341.6L527.5 344.7L524.8 343.0L522.1 344.7L522.9 341.6L520.5 339.6L523.7 339.4ZM526.7 337.4L527.9 340.3L531.1 340.5L528.6 342.6L529.4 345.7L526.7 344.0L524.0 345.7L524.8 342.6L522.3 340.5L525.5 340.3ZM528.6 339.0L529.7 341.9L532.9 342.1L530.5 344.2L531.3 347.3L528.6 345.6L525.9 347.3L526.7 344.2L524.2 342.1L527.4 341.9ZM530.4 338.9L531.6 341.9L534.8 342.1L532.3 344.1L533.1 347.2L530.4 345.5L527.7 347.2L528.5 344.1L526.1 342.1L529.3 341.9ZM532.3 338.8L533.5 341.8L536.7 342.0L534.2 344.0L535.0 347.1L532.3 345.4L529.6 347.1L530.4 344.0L527.9 342.0L531.1 341.8ZM534.1 339.4L535.3 342.3L538.5 342.5L536.1 344.6L536.9 347.7L534.1 346.0L531.4 347.7L532.2 344.6L529.8 342.5L533.0 342.3Z" fill="#12b7f5"/>
</g>
<g stroke="#000" stroke-width="1.7" fill="none" stroke-linecap="butt">
<rect x="69.1" y="15.8" width="465.8" height="374.8"/>
<line x1="69.1" y1="390.6" x2="69.1" y2="397.9"/>
<line x1="162.3" y1="15.8" x2="162.3" y2="22.8"/>
<line x1="162.3" y1="390.6" x2="162.3" y2="397.9"/>
<line x1="255.4" y1="15.8" x2="255.4" y2="22.8"/>
<line x1="255.4" y1="390.6" x2="255.4" y2="397.9"/>
<line x1="348.6" y1="15.8" x2="348.6" y2="22.8"/>
<line x1="348.6" y1="390.6" x2="348.6" y2="397.9"/>
<line x1="441.7" y1="15.8" x2="441.7" y2="22.8"/>
<line x1="441.7" y1="390.6" x2="441.7" y2="397.9"/>
<line x1="534.9" y1="390.6" x2="534.9" y2="397.9"/>
<line x1="115.7" y1="390.6" x2="115.7" y2="394.2"/>
<line x1="208.8" y1="390.6" x2="208.8" y2="394.2"/>
<line x1="301.9" y1="390.6" x2="301.9" y2="394.2"/>
<line x1="394.9" y1="390.6" x2="394.9" y2="394.2"/>
<line x1="488.1" y1="390.6" x2="488.1" y2="394.2"/>
<line x1="69.1" y1="69.4" x2="76.1" y2="69.4"/>
<line x1="534.9" y1="69.4" x2="527.9" y2="69.4"/>
<line x1="69.1" y1="176.5" x2="76.1" y2="176.5"/>
<line x1="534.9" y1="176.5" x2="527.9" y2="176.5"/>
<line x1="69.1" y1="283.6" x2="76.1" y2="283.6"/>
<line x1="534.9" y1="283.6" x2="527.9" y2="283.6"/>
</g>
<g font-family="'Liberation Serif', 'Times New Roman', serif" fill="#000" stroke="#000" stroke-width="0.25">
<text x="61.1" y="73.2" font-size="10.4" text-anchor="end">1.20×10<tspan font-size="7.6" dy="-3.7">5</tspan></text>
<text x="61.1" y="180.3" font-size="10.4" text-anchor="end">1.18×10<tspan font-size="7.6" dy="-3.7">5</tspan></text>
<text x="61.1" y="287.4" font-size="10.4" text-anchor="end">1.16×10<tspan font-size="7.6" dy="-3.7">5</tspan></text>
<text x="61.1" y="394.4" font-size="10.4" text-anchor="end">1.14×10<tspan font-size="7.6" dy="-3.7">5</tspan></text>
<text x="68.7" y="411.3" font-size="10.3" text-anchor="middle">0</text>
<text x="161.9" y="411.3" font-size="10.3" text-anchor="middle">50</text>
<text x="255.0" y="411.3" font-size="10.3" text-anchor="middle">100</text>
<text x="348.2" y="411.3" font-size="10.3" text-anchor="middle">150</text>
<text x="441.3" y="411.3" font-size="10.3" text-anchor="middle">200</text>
<text x="534.5" y="411.3" font-size="10.3" text-anchor="middle">250</text>
<text x="301.6" y="432.7" font-size="12.5" text-anchor="middle">Number of iterations</text>
<text transform="translate(15.4,203.3) rotate(-90)" font-size="12.5" text-anchor="middle">Fitness value</text>
</g>
</svg>
</body></html>
